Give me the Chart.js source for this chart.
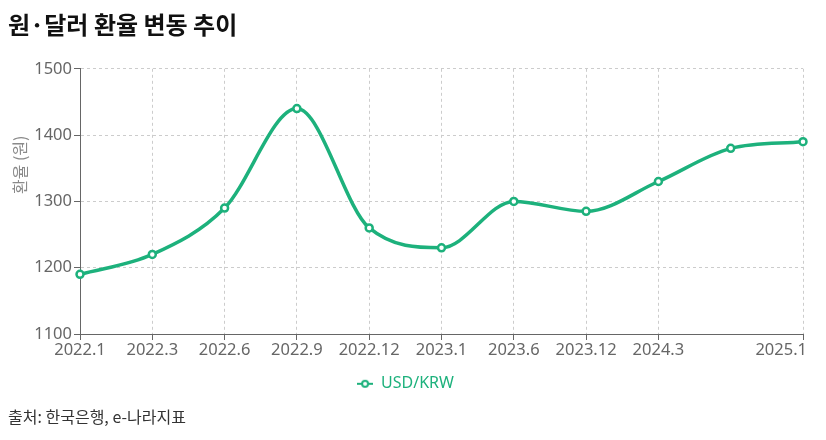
<!DOCTYPE html>
<html><head><meta charset="utf-8">
<script src="https://cdn.jsdelivr.net/npm/chart.js@4.4.1/dist/chart.umd.min.js"></script>
<style>html,body{margin:0;padding:0;background:#fff}#wrap{width:826px;height:440px;position:relative}</style>
</head><body><div id="wrap"><canvas id="c"></canvas></div>
<script>
const categories = ['2022.1','2022.3','2022.6','2022.9','2022.12','2023.1','2023.6','2023.12','2024.3','','2025.1'];
const usdKrw = [1190, 1220, 1290, 1440, 1260, 1230, 1300, 1285, 1330, 1380, 1390];
const yTicks = [1100, 1200, 1300, 1400, 1500];
const seriesName = 'USD/KRW';
const chartTitle = '원·달러 환율 변동 추이';
const yAxisTitle = '환율 (원)';
const sourceNote = '출처: 한국은행, e-나라지표';

const GREEN = '#1db17c';
const KFONT = "'Noto Sans CJK KR', 'Noto Sans', sans-serif";
const LFONT = "'Noto Sans', 'Noto Sans CJK KR', sans-serif";
const TICK_SIZE = 16.5;

// legend icon: short line with a hollow circle
const icon = document.createElement('canvas');
icon.width = 16; icon.height = 10;
(function(){
  const g = icon.getContext('2d');
  g.strokeStyle = GREEN; g.lineWidth = 2;
  g.beginPath(); g.moveTo(0,5); g.lineTo(16,5); g.stroke();
  g.fillStyle = '#fff'; g.lineWidth = 2;
  g.beginPath(); g.arc(8,5,3,0,Math.PI*2); g.fill(); g.stroke();
})();

const lastIdx = categories.length - 1;

const extraText = {
  id: 'extraText',
  afterDraw(chart) {
    const ctx = chart.ctx, a = chart.chartArea, x = chart.scales.x;
    ctx.save();
    ctx.fillStyle = '#8a8a8a';
    ctx.font = '16px ' + KFONT;
    ctx.textAlign = 'center'; ctx.textBaseline = 'middle';
    ctx.translate(20, a.top + (a.bottom - a.top) * 0.362);
    ctx.rotate(-Math.PI/2);
    ctx.fillText(yAxisTitle, 0, 0);
    ctx.restore();
    ctx.save();
    ctx.fillStyle = '#666';
    ctx.font = TICK_SIZE + 'px ' + LFONT;
    ctx.textAlign = 'right'; ctx.textBaseline = 'top';
    ctx.fillText(categories[lastIdx], x.getPixelForValue(lastIdx) + 4, a.bottom + 6 + 2);
    ctx.restore();
  }
};

new Chart(document.getElementById('c'), {
  type: 'line',
  data: {
    labels: categories,
    datasets: [{
      label: seriesName,
      data: usdKrw,
      borderColor: GREEN,
      backgroundColor: '#fff',
      borderWidth: 3.5,
      cubicInterpolationMode: 'monotone',
      pointRadius: 3.5,
      pointBorderWidth: 2.5,
      pointBackgroundColor: '#fff',
      pointBorderColor: GREEN,
      fill: false
    }]
  },
  options: {
    responsive: true,
    maintainAspectRatio: false,
    animation: false,
    layout: { padding: { left: 8, right: 23, top: 4, bottom: 13 } },
    plugins: {
      title: {
        display: true, text: chartTitle, align: 'start',
        color: '#111', font: { family: KFONT, size: 24, weight: 'bold' },
        padding: { top: 6, bottom: 30 }
      },
      subtitle: {
        display: true, text: sourceNote, align: 'start', position: 'bottom',
        color: '#333', font: { family: KFONT, size: 16 },
        padding: { top: 6, bottom: 0 }
      },
      legend: {
        display: true, position: 'bottom',
        labels: {
          color: GREEN, font: { family: LFONT, size: 16 },
          usePointStyle: true, pointStyleWidth: 16, padding: 16,
          generateLabels(chart) {
            return [{ text: seriesName, pointStyle: icon, fontColor: GREEN, strokeStyle: GREEN, fillStyle: '#fff', lineWidth: 0, datasetIndex: 0, hidden: false }];
          }
        }
      },
      tooltip: { enabled: false }
    },
    scales: {
      x: {
        grid: {
          color: c => categories[c.index] === '' ? 'transparent' : '#cccccc',
          tickColor: c => categories[c.index] === '' ? 'transparent' : '#666',
          tickLength: 6, lineWidth: 1
        },
        border: { display: true, color: '#666', width: 1, dash: [3,3] },
        ticks: {
          autoSkip: false, maxRotation: 0, minRotation: 0,
          color: '#666', font: { family: LFONT, size: TICK_SIZE }, padding: 0,
          callback: (v, i) => i === lastIdx ? '' : categories[i]
        }
      },
      y: {
        min: yTicks[0], max: yTicks[yTicks.length-1],
        afterBuildTicks: s => { s.ticks = yTicks.map(v => ({ value: v })); },
        afterFit: s => { s.width = 72; },
        grid: { color: '#cccccc', tickColor: '#666', tickLength: 6 },
        border: { display: true, color: '#666', width: 1, dash: [3,3] },
        ticks: { color: '#666', font: { family: LFONT, size: TICK_SIZE }, padding: 2,
          callback: v => String(v) }
      }
    }
  },
  plugins: [extraText]
});
</script>
</body></html>
